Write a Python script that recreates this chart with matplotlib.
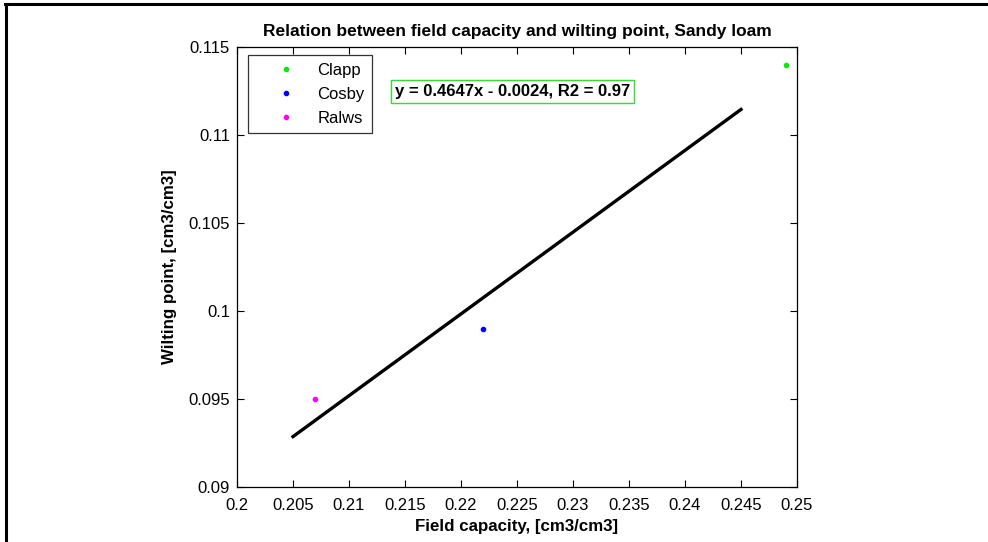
import numpy as np
import matplotlib.pyplot as plt
from matplotlib.lines import Line2D

plt.rcParams['font.family'] = ['Liberation Sans', 'DejaVu Sans']

# field capacity / wilting point per method, sandy loam
methods = ["Clapp", "Cosby", "Ralws"]
field_capacity = [0.249, 0.222, 0.207]
wilting_point = [0.114, 0.099, 0.095]
colors = ["#00ee00", "#0000ff", "#ff00ff"]

# regression fit
slope = 0.4647
intercept = -0.0024
r2 = 0.97
fit_x = np.array([0.205, 0.245])

fig = plt.figure(figsize=(9.88, 5.42), dpi=100)
ax = fig.add_axes([237 / 988, 1 - 487 / 542, 560 / 988, 440 / 542])

for name, fc, wp, c in zip(methods, field_capacity, wilting_point, colors):
    ax.plot(fc, wp, ".", color=c, markersize=6, label=name)

ax.plot(fit_x, slope * fit_x + intercept, color="black", linewidth=2.4)

ax.set_xlim(0.2, 0.25)
ax.set_ylim(0.09, 0.115)
ax.set_xticks(np.arange(0.2, 0.2501, 0.005))
ax.set_xticklabels(["0.2", "0.205", "0.21", "0.215", "0.22", "0.225",
                    "0.23", "0.235", "0.24", "0.245", "0.25"])
ax.set_yticks(np.arange(0.09, 0.1151, 0.005))
ax.set_yticklabels(["0.09", "0.095", "0.1", "0.105", "0.11", "0.115"])
ax.tick_params(direction="in", top=True, right=True, length=5, width=0.8,
               labelsize=12)
ax.tick_params(axis="x", pad=8)
ax.tick_params(axis="y", pad=5)
for s in ax.spines.values():
    s.set_linewidth(0.9)

ax.set_title("Relation between field capacity and wilting point, Sandy loam",
             fontsize=12.5, fontweight="bold", pad=8)
ax.set_xlabel("Field capacity, [cm3/cm3]", fontsize=12.2, fontweight="bold", labelpad=4)
ax.set_ylabel("Wilting point, [cm3/cm3]", fontsize=12.2, fontweight="bold", labelpad=8)

leg = ax.legend(loc="upper left", bbox_to_anchor=(11 / 560, 1 - 8 / 440),
                fontsize=12, frameon=True, fancybox=False, edgecolor="black",
                borderpad=0.45, handlelength=3.6, handletextpad=0.1,
                labelspacing=0.55, borderaxespad=0)
leg.get_frame().set_linewidth(0.9)
leg.set_zorder(6)

ax.text(0.2141, 0.11247, "y = %.4fx - %.4f, R2 = %.2f" % (slope, -intercept, r2),
        fontsize=12, fontweight="bold", va="center", ha="left", zorder=5,
        bbox=dict(boxstyle="square,pad=0.25", facecolor="white",
                  edgecolor="#33dd33", linewidth=1))

# outer frame, top and left edges
fig.add_artist(Line2D([5 / 988, 1], [1 - 4 / 542, 1 - 4 / 542],
                      color="black", linewidth=2.2, transform=fig.transFigure))
fig.add_artist(Line2D([6 / 988, 6 / 988], [0, 1 - 4 / 542],
                      color="black", linewidth=2.2, transform=fig.transFigure))

fig.savefig("out.png", dpi=100)
